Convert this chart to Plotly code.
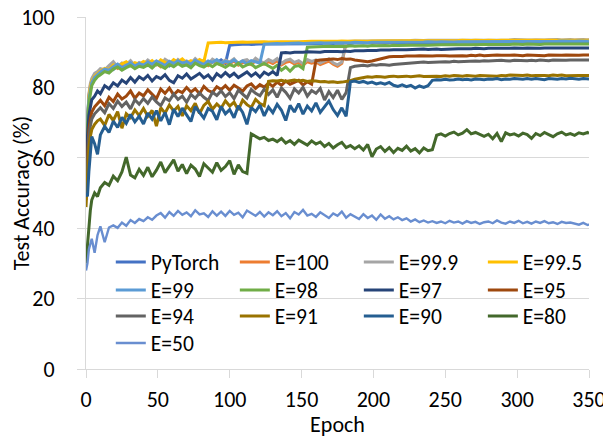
import plotly.graph_objects as go

EPOCHS = [0, 1, 2, 3, 4, 6, 8] + list(range(10, 350, 3)) + [350]

SERIES_NAMES = ["PyTorch", "E=100", "E=99.9", "E=99.5", "E=99", "E=98", "E=97",
                "E=95", "E=94", "E=91", "E=90", "E=80", "E=50"]

PYTORCH = [58, 71, 77, 80, 81.5, 83, 83.5,
           84.2, 84.8, 85.5, 85.1, 86.3, 85.7, 86.0, 86.8, 85.9, 86.5,
           86.9, 86.2, 87.0, 86.4, 87.3, 86.7, 86.1, 87.2, 86.8, 87.4,
           86.6, 87.1, 87.6, 86.9, 87.3, 86.5, 87.5, 87.0, 87.8, 86.8,
           92.0, 92.1, 92.2, 92.1, 92.3, 92.2, 92.3, 92.2, 92.4, 92.3,
           92.3, 92.4, 92.3, 92.5, 92.4, 92.4, 92.5, 92.4, 92.5, 92.5,
           92.5, 92.4, 92.6, 92.5, 92.5, 92.6, 92.5, 92.6, 92.5, 92.6,
           92.6, 92.5, 92.6, 92.7, 92.6, 92.6, 92.7, 92.6, 92.7, 92.6,
           92.7, 92.6, 92.7, 92.7, 92.6, 92.7, 92.8, 92.7, 92.7, 92.8,
           92.7, 92.8, 92.7, 92.8, 92.7, 92.8, 92.8, 92.7, 92.8, 92.8,
           92.8, 92.7, 92.8, 92.8, 92.9, 92.8, 92.8, 92.9, 92.8, 92.8,
           92.9, 92.8, 92.8, 92.9, 92.8, 92.9, 92.9, 92.8, 92.9, 92.9,
           92.8, 92.9, 92.9, 92.8, 92.9]

E100 = [59, 71.5, 77.5, 80.5, 82, 83.5, 84,
        84.8, 84.6, 85.7, 86.5, 85.4, 86.3, 85.9, 86.9, 85.8, 86.5,
        86.0, 87.1, 86.4, 86.8, 85.9, 87.3, 86.7, 86.2, 87.2, 86.5,
        87.0, 86.3, 87.5, 86.6, 87.1, 86.2, 87.4, 86.8, 86.4, 87.2,
        86.7, 87.5, 86.3, 87.0, 87.3, 86.5, 87.6, 86.9, 86.6, 87.3,
        86.8, 87.6, 86.4, 87.1, 87.4, 86.7, 87.1, 86.3, 87.3, 86.9,
        87.2, 86.5, 87.0, 87.5, 86.6, 86.0, 86.8, 92.7, 92.8, 92.9,
        92.9, 92.8, 93.0, 93.0, 92.9, 93.0, 93.1, 93.0, 93.0, 93.1,
        93.1, 93.0, 93.1, 93.2, 93.1, 93.1, 93.2, 93.1, 93.2, 93.2,
        93.2, 93.1, 93.2, 93.2, 93.3, 93.2, 93.2, 93.3, 93.2, 93.3,
        93.3, 93.2, 93.3, 93.3, 93.2, 93.3, 93.3, 93.2, 93.3, 93.3,
        93.3, 93.4, 93.3, 93.3, 93.4, 93.3, 93.4, 93.3, 93.3, 93.4,
        93.3, 93.4, 93.4, 93.3, 93.4]

E99_9 = [60, 72, 78, 81, 82.5, 84, 84.5,
         85.3, 85.0, 86.2, 87.3, 85.8, 86.9, 86.4, 87.6, 86.2, 87.1,
         86.5, 87.8, 86.9, 87.4, 86.3, 88.0, 87.2, 86.6, 87.9, 87.0,
         87.5, 86.8, 88.2, 87.1, 87.7, 86.6, 88.0, 87.3, 86.9, 87.8,
         87.2, 88.1, 86.7, 87.6, 87.9, 86.9, 88.3, 87.4, 87.0, 87.9,
         87.3, 88.2, 86.8, 87.7, 88.0, 87.1, 87.6, 86.7, 87.9, 87.4,
         87.8, 86.9, 87.5, 88.1, 87.0, 86.4, 87.2, 93.0, 93.1, 93.1,
         93.2, 93.1, 93.2, 93.3, 93.2, 93.2, 93.3, 93.2, 93.3, 93.3,
         93.3, 93.2, 93.3, 93.4, 93.3, 93.3, 93.4, 93.3, 93.4, 93.4,
         93.4, 93.3, 93.4, 93.4, 93.5, 93.4, 93.4, 93.5, 93.4, 93.5,
         93.5, 93.4, 93.5, 93.5, 93.4, 93.5, 93.6, 93.5, 93.5, 93.5,
         93.5, 93.6, 93.5, 93.5, 93.6, 93.5, 93.6, 93.5, 93.6, 93.6,
         93.5, 93.6, 93.6, 93.5, 93.6]

E99_5 = [57, 70.5, 77, 80, 81.8, 83.2, 84,
         84.6, 85.4, 85.0, 86.4, 86.0, 86.7, 87.3, 86.2, 87.0, 86.6,
         87.4, 86.8, 87.6, 86.5, 87.8, 87.1, 86.7, 87.9, 87.2, 88.1,
         87.0, 87.6, 86.9, 87.9, 87.3, 92.6, 92.7, 92.6, 92.8, 92.7,
         92.8, 92.7, 92.8, 92.9, 92.8, 92.9, 92.8, 92.9, 93.0, 92.9,
         93.0, 92.9, 93.0, 93.0, 93.1, 93.0, 93.0, 93.1, 93.0, 93.1,
         93.1, 93.0, 93.1, 93.1, 93.0, 93.1, 93.2, 93.1, 93.1, 93.2,
         93.1, 93.2, 93.1, 93.2, 93.2, 93.1, 93.2, 93.2, 93.3, 93.2,
         93.2, 93.3, 93.2, 93.2, 93.3, 93.2, 93.3, 93.3, 93.2, 93.3,
         93.3, 93.2, 93.3, 93.3, 93.4, 93.3, 93.3, 93.4, 93.3, 93.3,
         93.4, 93.3, 93.3, 93.4, 93.3, 93.4, 93.4, 93.3, 93.4, 93.4,
         93.3, 93.4, 93.4, 93.3, 93.4, 93.4, 93.3, 93.4, 93.4, 93.3,
         93.4, 93.4, 93.3, 93.4, 93.4]

E99 = [56, 70, 76.5, 79.5, 81.3, 82.8, 83.6,
       84.3, 85.2, 84.9, 85.9, 86.6, 85.6, 86.4, 87.0, 86.1, 86.8,
       86.3, 87.2, 86.6, 87.5, 86.9, 86.2, 87.4, 86.8, 87.6, 86.9,
       87.3, 86.6, 87.7, 87.0, 86.5, 87.5, 87.1, 87.9, 86.8, 87.4,
       87.0, 87.8, 86.9, 87.5, 86.7, 87.6, 87.2, 86.9, 92.3, 92.4,
       92.4, 92.5, 92.4, 92.5, 92.6, 92.5, 92.6, 92.5, 92.6, 92.6,
       92.6, 92.7, 92.6, 92.7, 92.6, 92.7, 92.7, 92.6, 92.7, 92.8,
       92.7, 92.8, 92.7, 92.8, 92.8, 92.7, 92.8, 92.9, 92.8, 92.8,
       92.9, 92.8, 92.9, 92.9, 92.8, 92.9, 93.0, 92.9, 92.9, 93.0,
       92.9, 93.0, 92.9, 93.0, 93.0, 92.9, 93.0, 93.0, 93.1, 93.0,
       93.0, 93.1, 93.0, 93.0, 93.1, 93.0, 93.1, 93.1, 93.0, 93.1,
       93.1, 93.0, 93.1, 93.1, 93.0, 93.1, 93.1, 93.2, 93.1, 93.1,
       93.1, 93.2, 93.1, 93.1, 93.2]

E98 = [55, 69, 75.5, 78.5, 80.5, 82, 83,
       83.6, 84.5, 84.1, 85.2, 85.8, 84.9, 85.6, 86.2, 85.3, 86.0,
       85.7, 86.4, 85.5, 86.7, 86.1, 85.4, 86.5, 85.9, 86.8, 86.0,
       86.4, 85.6, 86.9, 86.2, 85.8, 86.6, 85.9, 86.8, 86.3, 85.7,
       86.5, 86.0, 86.9, 85.8, 86.4, 86.7, 85.6, 86.3, 86.8, 86.1,
       85.4, 86.3, 84.9, 85.8, 84.6, 85.9, 86.2, 85.3, 91.4, 91.5,
       91.6, 91.5, 91.6, 91.7, 91.6, 91.7, 91.7, 91.6, 91.8, 91.7,
       91.8, 91.8, 91.7, 91.9, 91.8, 91.9, 91.9, 91.8, 92.0, 91.9,
       92.0, 91.9, 92.0, 92.0, 92.1, 92.0, 92.0, 92.1, 92.0, 92.1,
       92.1, 92.0, 92.1, 92.1, 92.2, 92.1, 92.1, 92.2, 92.1, 92.2,
       92.2, 92.1, 92.2, 92.2, 92.1, 92.2, 92.3, 92.2, 92.2, 92.3,
       92.2, 92.3, 92.2, 92.3, 92.3, 92.2, 92.3, 92.3, 92.2, 92.3,
       92.3, 92.2, 92.3, 92.3, 92.3]

E97 = [53, 66, 72, 75, 76.5, 77.5, 79,
       78.2, 80.5, 79.6, 81.3, 80.4, 82.1, 81.2, 82.8, 81.5, 83.0,
       82.2, 83.4, 81.8, 83.1, 82.5, 83.6, 82.0, 81.3, 83.3, 82.6,
       83.8, 82.4, 83.2, 84.0, 82.7, 83.5, 82.1, 83.9, 83.0, 84.2,
       83.1, 84.0, 82.8, 83.7, 84.4, 83.2, 84.1, 82.9, 84.3, 83.6,
       84.5, 83.4, 89.8, 89.9, 89.8, 90.0, 89.9, 90.0, 90.1, 90.0,
       90.1, 90.0, 90.2, 90.1, 90.2, 90.2, 90.1, 90.3, 90.2, 90.4,
       90.3, 90.4, 90.5, 90.4, 90.5, 90.6, 90.5, 90.6, 90.7, 90.6,
       90.7, 90.7, 90.8, 90.7, 90.8, 90.9, 90.8, 90.9, 90.9, 90.8,
       90.9, 91.0, 90.9, 91.0, 91.0, 90.9, 91.0, 91.1, 91.0, 91.0,
       91.1, 91.0, 91.1, 91.1, 91.0, 91.1, 91.2, 91.1, 91.1, 91.2,
       91.1, 91.2, 91.1, 91.2, 91.2, 91.1, 91.2, 91.2, 91.1, 91.2,
       91.2, 91.2, 91.1, 91.2, 91.2]

E95 = [50, 62, 68, 71, 73, 74.5, 75.5,
       76.3, 74.8, 77.2, 76.0, 78.1, 76.7, 77.5, 79.0, 76.9, 78.4,
       77.6, 79.3, 78.0, 76.8, 79.5, 78.3, 79.8, 77.9, 79.1, 78.5,
       80.0, 78.7, 79.6, 78.2, 80.3, 79.1, 78.6, 80.2, 79.4, 80.5,
       79.2, 80.6, 79.8, 78.9, 80.4, 81.0, 79.7, 80.8, 80.1, 81.2,
       80.3, 81.5, 80.6, 81.8, 80.9, 81.4, 82.0, 80.7, 81.6, 80.9,
       87.6, 87.8, 87.9, 88.0, 88.1, 87.9, 88.2, 88.0, 88.1, 87.8,
       87.6, 87.4, 87.3, 87.5, 87.8, 88.3, 88.6, 88.7, 88.8, 88.7,
       88.8, 88.9, 88.8, 88.9, 89.0, 88.9, 88.8, 88.9, 89.0, 89.1,
       89.0, 88.9, 89.0, 89.1, 89.0, 88.9, 89.1, 89.0, 89.2, 89.0,
       89.1, 89.0, 89.2, 89.1, 89.0, 89.1, 89.2, 89.1, 89.0, 89.2,
       89.1, 89.2, 89.1, 89.0, 89.2, 89.1, 89.2, 89.1, 89.2, 89.1,
       89.2, 89.1, 89.2, 89.1, 89.2]

E94 = [48, 60, 66, 69, 71, 72.5, 73.5,
       74.2, 72.8, 75.4, 74.0, 76.1, 74.6, 75.8, 73.9, 76.5, 75.2,
       76.8, 75.5, 77.3, 75.9, 74.8, 77.0, 76.2, 78.1, 76.6, 77.5,
       75.8, 78.0, 76.9, 78.4, 77.2, 76.3, 78.6, 77.7, 79.0, 77.4,
       78.5, 76.8, 79.2, 78.1, 77.0, 79.4, 78.3, 77.6, 79.5, 78.0,
       79.3, 77.2, 79.8, 78.6, 76.9, 79.6, 78.4, 80.0, 77.5, 79.1,
       78.3, 79.7, 76.4, 78.8, 77.1, 79.2, 76.6, 78.5, 85.6, 86.0,
       86.2, 86.3, 86.1, 86.4, 86.3, 86.5, 86.4, 86.3, 86.5, 86.6,
       86.7, 86.8, 87.0, 87.1, 87.0, 87.2, 87.1, 87.2, 87.3, 87.2,
       87.3, 87.2, 87.4, 87.3, 87.4, 87.5, 87.4, 87.5, 87.4, 87.6,
       87.5, 87.6, 87.5, 87.7, 87.6, 87.5, 87.7, 87.6, 87.7, 87.6,
       87.7, 87.6, 87.8, 87.7, 87.6, 87.8, 87.7, 87.8, 87.7, 87.8,
       87.7, 87.8, 87.8, 87.7, 87.8]

E91 = [46, 57, 63, 66, 68, 69.5, 70.5,
       71.0, 69.2, 72.3, 70.6, 73.1, 68.4, 72.5, 71.4, 73.6, 72.0,
       74.0, 71.8, 73.5, 69.0, 74.2, 72.7, 75.0, 73.3, 74.6, 71.9,
       74.8, 73.4, 75.5, 72.6, 74.9, 76.0, 73.8, 75.3, 74.1, 76.2,
       74.7, 75.8, 73.6, 76.4, 75.1, 74.3, 76.6, 75.4, 74.8, 81.7,
       81.9, 81.8, 82.0, 81.7, 81.9, 82.1, 81.8, 82.0, 81.7, 81.9,
       81.8, 81.6, 81.7, 81.5, 81.6, 81.4, 81.5, 81.6, 81.9, 82.3,
       82.6, 82.8, 83.0, 82.9, 83.1, 83.0, 82.9, 83.1, 83.2, 83.0,
       83.1, 83.2, 83.0, 83.2, 83.3, 83.1, 83.2, 83.3, 83.2, 83.1,
       83.3, 83.2, 83.4, 83.3, 83.2, 83.4, 83.3, 83.2, 83.4, 83.3,
       83.4, 83.3, 83.2, 83.4, 83.3, 83.5, 83.4, 83.3, 83.4, 83.5,
       83.3, 83.4, 83.5, 83.4, 83.3, 83.5, 83.4, 83.5, 83.3, 83.4,
       83.5, 83.4, 83.4, 83.5, 83.4]

E90 = [50, 49, 56, 62, 66, 64, 61,
       66.5, 68.9, 67.2, 70.4, 68.6, 71.5, 69.8, 72.3, 70.2, 71.8,
       69.6, 72.7, 71.0, 73.4, 70.5, 72.9, 69.4, 73.8, 71.7, 74.1,
       72.2, 70.3, 74.5, 72.8, 71.3, 74.0, 73.2, 70.8, 74.6, 72.5,
       73.7, 71.4, 74.8, 72.9, 69.5, 74.3, 73.1, 75.0, 71.9, 74.4,
       72.8, 75.2, 73.5, 70.6, 74.9, 73.0, 75.4, 72.4, 74.7, 73.3,
       75.6, 72.9, 74.5, 76.1, 73.7, 72.0, 74.2, 71.8, 81.6, 81.8,
       81.4, 81.7, 81.2, 81.5, 81.0, 81.3, 80.9, 81.4, 80.6, 80.3,
       80.7, 80.2, 80.6, 79.8, 80.4, 80.0, 80.5, 82.0, 82.2, 82.1,
       82.3, 82.1, 82.2, 82.4, 82.2, 82.3, 82.1, 82.4, 82.3, 82.2,
       82.4, 82.3, 82.5, 82.2, 82.4, 82.3, 82.5, 82.4, 82.3, 82.5,
       82.3, 82.5, 82.4, 82.2, 82.5, 82.4, 82.3, 82.5, 82.4, 82.6,
       82.4, 82.3, 82.5, 82.4, 82.4]

E80 = [30, 36, 41, 45, 48, 50, 49,
       51.5, 53.0, 52.2, 54.8, 53.5, 56.0, 60.2, 55.1, 54.3, 56.7,
       55.0, 57.3, 54.6, 56.5, 58.8, 55.8, 57.6, 59.4, 56.2, 58.1,
       55.5, 57.9, 56.8, 54.7, 58.3, 57.0, 55.9, 58.6, 56.4, 57.5,
       59.2, 55.3, 58.0, 56.1, 55.6, 66.8, 66.0, 65.4, 65.8, 64.9,
       65.3, 64.6, 65.5, 64.2, 64.9, 63.8, 65.0, 64.3, 63.6, 64.8,
       63.9, 64.5, 63.2, 64.1, 62.8, 63.7, 64.4, 62.9, 63.5, 62.6,
       63.4, 62.2, 63.8, 60.3, 62.5, 63.2, 61.8, 62.9, 61.5, 62.7,
       62.1, 63.3, 61.9, 62.6, 61.4, 62.8, 62.0, 62.3, 66.4, 66.8,
       66.2, 66.9, 67.3, 66.5, 67.0, 68.0, 66.8, 67.2, 66.6, 66.1,
       66.7, 65.4, 66.9, 64.6, 67.1, 66.5, 66.8, 66.2, 67.0, 66.6,
       65.5, 66.9, 66.3, 67.2, 66.6, 66.0, 66.8, 67.3, 66.5, 66.9,
       66.4, 67.1, 66.8, 67.2, 66.9]

E50 = [28, 30, 34, 36, 37, 33, 38,
       40.5, 36.0, 40.2, 40.8, 40.1, 41.6, 40.7, 42.3, 41.5, 42.6,
       42.0, 43.1, 42.4, 43.6, 44.3, 43.0, 44.6, 43.5, 44.9, 43.8,
       44.5, 43.4, 45.1, 43.9, 44.2, 43.2, 44.8, 43.6, 44.7, 43.5,
       44.9, 43.8, 44.4, 43.1, 45.0, 44.2, 43.5, 44.6, 43.3, 44.5,
       43.7, 44.8, 43.4, 44.3, 42.8, 44.6, 43.9, 45.2, 43.6, 44.1,
       43.2, 44.5, 43.8, 42.9, 44.2, 43.5, 44.7, 43.0, 44.0, 43.3,
       42.6, 44.0, 42.9, 43.6, 42.4, 43.9, 42.7, 43.4, 42.5, 43.1,
       42.3, 42.8, 41.9, 42.5, 41.7, 42.2, 41.6, 42.0, 41.5, 41.9,
       41.4, 42.1, 41.6, 41.9, 41.3, 42.0, 41.5, 41.8, 41.2, 41.7,
       41.9, 41.4, 42.2, 41.6, 41.3, 41.9, 41.5, 42.1, 41.4, 41.8,
       41.3, 41.9, 41.5, 42.0, 41.4, 41.7, 41.2, 41.8, 41.5, 41.6,
       41.2, 41.0, 41.5, 40.9, 41.1]

SERIES_VALUES = [PYTORCH, E100, E99_9, E99_5, E99, E98, E97, E95, E94, E91, E90, E80, E50]
COLORS = ["#4472C4", "#ED7D31", "#A5A5A5", "#FFC000", "#5B9BD5", "#70AD47", "#264478",
          "#9E480E", "#636363", "#997300", "#255E91", "#43682B", "#698ED0"]
X_TICKS = [0, 50, 100, 150, 200, 250, 300, 350]
Y_TICKS = [0, 20, 40, 60, 80, 100]

FONT = "Carlito, Lato, 'Noto Sans', sans-serif"
TICK_SIZE = 22
LEG_SIZE = 21.5

# legend grid: 4 columns, filled row by row (positions in plot-area fractions)
LEG_COL_X = [0.0493, 0.2959, 0.5424, 0.7890]
LEG_ROW_Y = [0.3040, 0.2245, 0.1506, 0.0739]

fig = go.Figure()
legends = {}
for i, (name, vals, col) in enumerate(zip(SERIES_NAMES, SERIES_VALUES, COLORS)):
    assert len(vals) == len(EPOCHS), (name, len(vals), len(EPOCHS))
    lid = "legend" if i == 0 else f"legend{i + 1}"
    fig.add_trace(go.Scatter(
        x=EPOCHS, y=vals, name=name, mode="lines", legend=lid,
        line=dict(color=col, width=2.4 if name == "E=50" else 3),
    ))
    legends[lid] = dict(
        x=LEG_COL_X[i % 4], y=LEG_ROW_Y[i // 4], xanchor="left", yanchor="middle",
        orientation="v", bgcolor="rgba(0,0,0,0)", borderwidth=0,
        font=dict(family=FONT, size=LEG_SIZE, color="black"),
    )

# the page body adds an 8px offset; the figure is sized so it ends at the window edge
fig.update_layout(
    width=603, height=430,
    margin=dict(l=78, r=22, t=9, b=69),
    paper_bgcolor="white", plot_bgcolor="white",
    font=dict(family=FONT, size=20, color="black"),
    showlegend=True,
    xaxis=dict(
        range=[0, 350], tickvals=X_TICKS, showgrid=False, zeroline=False,
        showline=True, linecolor="#D9D9D9", linewidth=1, automargin=False,
        ticks="outside", ticklen=8, tickcolor="#D9D9D9", ticklabelstandoff=3,
        ticklabeloverflow="allow",
        tickfont=dict(family=FONT, size=TICK_SIZE, color="black"),
        title=dict(text="Epoch", font=dict(family=FONT, size=TICK_SIZE, color="black"), standoff=0),
    ),
    yaxis=dict(
        range=[0, 100], tickvals=Y_TICKS, showgrid=True, gridcolor="#D9D9D9", gridwidth=1,
        zeroline=False, showline=True, linecolor="#D9D9D9", linewidth=1, automargin=False,
        ticks="outside", ticklen=8, tickcolor="#D9D9D9", ticklabelstandoff=18,
        ticklabeloverflow="allow",
        tickfont=dict(family=FONT, size=TICK_SIZE, color="black"),
        title=dict(text="Test Accuracy (%)", font=dict(family=FONT, size=TICK_SIZE, color="black"), standoff=0),
    ),
    **legends,
)

fig.write_html("out.html")
